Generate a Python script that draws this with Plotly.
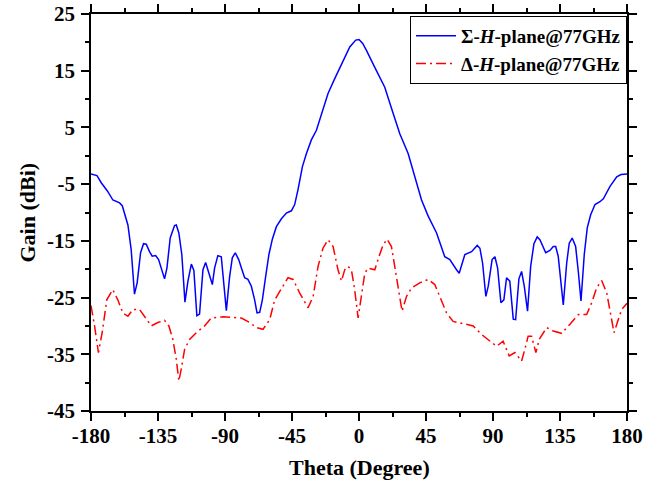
import plotly.graph_objects as go

sum_theta = [-180, -176, -173, -169, -165.3, -160.8, -159, -157.5, -155.2, -153, -150.8, -149, -146.7, -144.7,
             -142.9, -140.7, -138.9, -136.6, -134.6, -130.6, -129, -126.8, -123.9, -122.7, -121, -119, -116.9,
             -114.9, -112.6, -110.9, -108.9, -107.1, -104.8, -103, -100.8, -98.5, -97, -94.8, -92.5, -90.9,
             -89.1, -86.9, -85.1, -83.1, -80.8, -78.6, -76.8, -74.6, -72.3, -70.1, -68.5, -66.7, -64.9, -62.7,
             -60.5, -58.2, -55.5, -52.1, -48.8, -45.4, -43.2, -41, -38, -35.3, -32, -28.6, -25.2, -20.8, -16.3,
             -10.7, -6.2, -2.2, 0, 2.5, 5, 10.6, 17.3, 22.9, 27.4, 33, 37.5, 42, 46.4, 52.1, 57.6, 61, 65.5,
             67.3, 71.1, 75.6, 79.4, 81.2, 83, 85.2, 86.8, 89.4, 91.3, 93.1, 95.3, 97.3, 99.1, 101.3, 103.6,
             105.2, 107.4, 109.2, 111, 113.2, 115.3, 117.5, 119.7, 121.5, 125.4, 128.2, 130.5, 132.1, 133.8,
             135.4, 137.2, 139.5, 141.2, 143.2, 145.5, 147.3, 149.1, 151.3, 153.3, 155.6, 158.5, 161.8, 164.1,
             168.6, 173.1, 176, 180]
sum_gain = [-3.2, -3.5, -4.8, -6.2, -7.8, -8.3, -8.8, -10.1, -12.2, -16.6, -24.4, -22.4, -17.1, -15.5,
            -15.6, -16.9, -17.7, -17.6, -18.3, -21.7, -19.8, -14.5, -12.3, -12.2, -13.6, -17.4, -25.8,
            -22.1, -19.1, -20.2, -28.2, -27.9, -20.1, -18.8, -20.7, -22.7, -19.8, -17.6, -17.8, -21.8,
            -27.3, -21.3, -18.0, -17.1, -18.3, -20.1, -21.5, -21.8, -23.0, -25.4, -27.7, -27.6, -25.4, -21.3,
            -17.4, -14.7, -12.5, -11.1, -10.1, -9.7, -8.6, -6.0, -1.9, 0.4, 2.8, 4.5, 7.5, 11.0, 13.6,
            16.8, 19.2, 20.4, 20.5, 19.8, 18.6, 15.6, 12.1, 7.5, 3.9, 0.4, -3.7, -7.8, -10.6, -13.6, -17.8, -18.3, -20.1,
            -20.7, -17.4, -16.9, -15.8, -16.3, -18.9, -24.8, -23.0, -18.3, -17.8, -19.8, -25.9, -25.4, -21.5, -22.1, -28.8,
            -28.9, -21.7, -20.4, -23.0, -27.4, -19.5, -15.5, -14.3, -14.8, -17.1, -16.7, -16.0, -16.0, -17.7,
            -21.8, -26.3, -18.9, -15.4, -14.5, -16.0, -20.4, -25.6, -17.4, -12.7, -10.4, -8.6, -8.1, -7.6,
            -5.4, -3.7, -3.3, -3.2]

diff_theta = [-180, -177.6, -175, -172.5, -169.4, -165.4, -162, -158.6, -155.2, -151.9, -147.4, -144, -139.5,
              -135.1, -130.6, -127.7, -125, -122.7, -121, -119.4, -117.1, -113.8, -109.3, -103.7, -99.2, -91.4,
              -83.5, -79, -73.4, -68.9, -64.5, -60, -56.6, -52.1, -47.7, -44.3, -39.8, -34.2, -30.8, -27.5,
              -24.2, -20.8, -17.4, -14.1, -11.8, -9.6, -7.4, -5.1, -2.9, -0.6, 1.6, 3.9, 6.1, 10.6, 13.9,
              16.2, 18.9, 21.8, 24, 26.7, 28.9, 31.9, 35.3, 40.8, 46.4, 50.9, 55.4, 58.8, 63.2, 70, 76.7,
              82.3, 87.9, 92.4, 96.8, 100.9, 104.7, 109.2, 111.4, 113.6, 115.9, 118.8, 121, 126, 130.5, 136.1,
              141.7, 147.3, 152.9, 156.3, 159.6, 163, 166.4, 169, 171.3, 174.1, 176.4, 180]
diff_gain = [-26.4, -30.0, -34.7, -31.2, -25.4, -23.6, -25.4, -27.7, -28.3, -27.1, -27.1, -28.3, -30.0,
             -29.4, -29.0, -30.0, -32.4, -35.9, -39.7, -37.6, -34.1, -32.4, -31.2, -30.0, -28.6, -28.4,
             -28.6, -28.6, -29.4, -30.3, -30.6, -28.9, -25.4, -23.3, -21.5, -21.8, -24.2, -26.8, -24.8, -19.5,
             -16.3, -14.8, -16.0, -20.1, -22.1, -20.1, -19.5, -20.1, -23.6, -28.6, -24.8, -20.7, -19.8, -20.1, -17.4,
             -15.7, -14.7, -16.0, -19.5, -24.2, -27.4, -24.8, -23.3, -22.4, -21.8, -22.7, -25.4, -27.7, -29.2, -29.6, -30.0,
             -31.5, -32.7, -33.6, -32.7, -35.3, -34.7, -36.2, -34.1, -31.8, -31.8, -34.7, -32.4, -30.3, -30.9, -31.3,
             -29.7, -28.0, -28.0, -25.9, -23.3, -22.0, -24.2, -27.7, -31.2, -28.9, -27.1, -26.0]

x_ticks = [-180, -135, -90, -45, 0, 45, 90, 135, 180]
y_ticks = [25, 15, 5, -5, -15, -25, -35, -45]
x_title = "Theta (Degree)"
y_title = "Gain (dBi)"

FONT = "Liberation Serif, Times New Roman, serif"

fig = go.Figure()
fig.add_trace(go.Scatter(x=sum_theta, y=sum_gain, mode="lines",
                         name="Σ-<i>H</i>-plane@77GHz",
                         line=dict(color="#0000ff", width=1.5)))
fig.add_trace(go.Scatter(x=diff_theta, y=diff_gain, mode="lines",
                         name="Δ-<i>H</i>-plane@77GHz",
                         line=dict(color="#ff0000", width=1.5, dash="10px,4px,2px,4px")))

axis_common = dict(showgrid=False, zeroline=False, showline=True, linecolor="black", linewidth=1.5,
                   mirror="ticks", ticks="outside", ticklen=8, tickwidth=1.5, tickcolor="black",
                   automargin=False, ticklabeloverflow="allow",
                   tickfont=dict(family=FONT, size=21, color="black", weight="bold"))

fig.update_xaxes(range=[-180, 180], tickvals=x_ticks, ticktext=[str(v) for v in x_ticks],
                 ticklabelstandoff=-3,
                 minor=dict(dtick=22.5, tick0=-180, ticks="outside", ticklen=4, tickwidth=1.5, tickcolor="black"),
                 **axis_common)
fig.update_yaxes(range=[-45, 25], tickvals=y_ticks, ticktext=[str(v) for v in y_ticks],
                 ticklabelstandoff=2,
                 minor=dict(dtick=5, tick0=-45, ticks="outside", ticklen=4, tickwidth=1.5, tickcolor="black"),
                 **axis_common)

fig.add_annotation(text="<b>" + x_title + "</b>", xref="paper", yref="paper", x=0.5, y=0,
                   yshift=-56, xanchor="center", yanchor="middle", showarrow=False,
                   font=dict(family=FONT, size=22, color="black"))
fig.add_annotation(text="<b>" + y_title + "</b>", xref="paper", yref="paper", x=0, y=0.5,
                   xshift=-64, xanchor="center", yanchor="middle", showarrow=False, textangle=-90,
                   font=dict(family=FONT, size=22, color="black"))

fig.update_layout(
    width=659, height=483,
    margin=dict(l=91, r=32, t=14, b=72, autoexpand=False),
    plot_bgcolor="white", paper_bgcolor="white",
    font=dict(family=FONT, color="black"),
    legend=dict(x=1, y=0.995, xanchor="right", yanchor="top",
                bordercolor="black", borderwidth=1, bgcolor="white",
                font=dict(family=FONT, size=19, color="black", weight="bold"),
                tracegroupgap=0, itemwidth=40),
    showlegend=True,
)

fig.write_html("out.html", config={"displayModeBar": False},
               post_script="document.body.style.margin='0px';")
